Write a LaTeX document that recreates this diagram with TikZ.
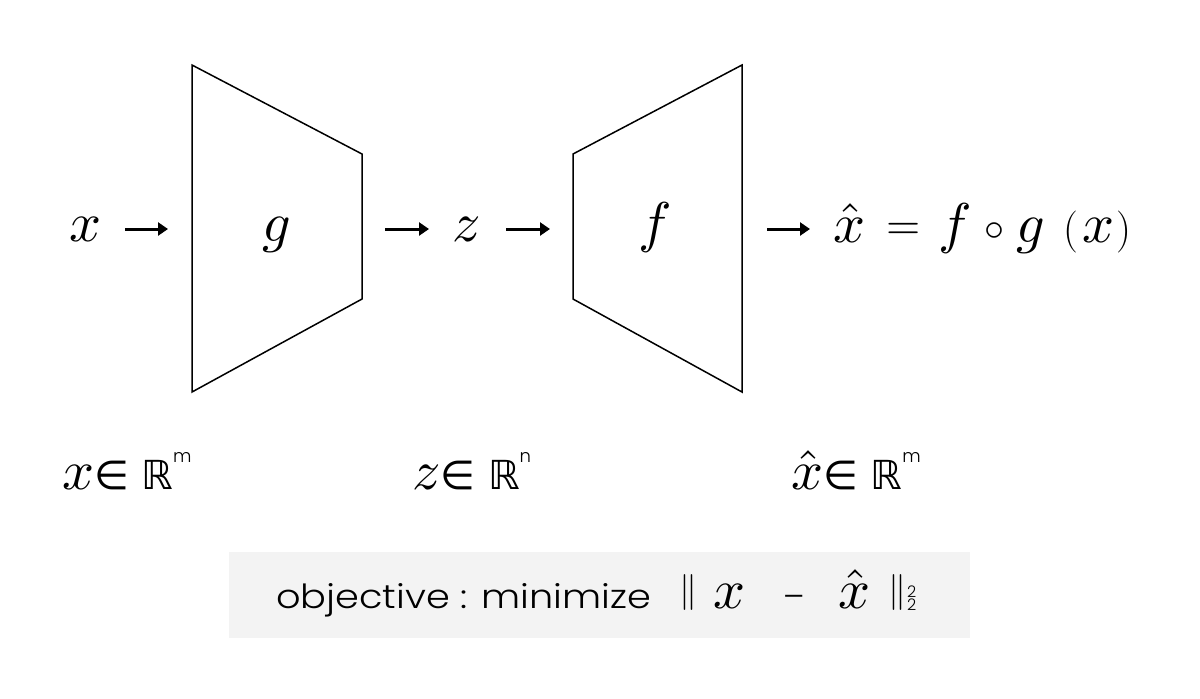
\documentclass[tikz,border=0pt]{standalone}
\DeclareFontFamily{OML}{cmm}{\skewchar\font127}
\DeclareFontShape{OML}{cmm}{m}{it}{<-> cmmi10}{}
\DeclareFontFamily{OMS}{cmsy}{\skewchar\font48}
\DeclareFontShape{OMS}{cmsy}{m}{n}{<-> cmsy10}{}
\DeclareFontFamily{OT1}{cmr}{}
\DeclareFontShape{OT1}{cmr}{m}{n}{<-> cmr10}{}
\usepackage{fontspec}
\newfontfamily\popfont{Poppins Light}
\newfontfamily\djfont{DejaVu Sans}
\usetikzlibrary{arrows.meta}
\definecolor{boxgray}{HTML}{F3F3F3}
\newdimen\pxu \pxu=0.5pt
\newcommand\putat[2]{\makebox[0pt][l]{\hspace*{#1\pxu}#2}}
\newcommand\mybigsz{\fontsize{28}{30}\selectfont}
\newcommand\setsz[1]{\fontsize{#1}{#1}\selectfont}
\begin{document}
\begin{tikzpicture}[x=0.5pt,y=-0.5pt,
  trap/.style={draw=black,line width=0.75pt,line join=miter},
  arr/.style={line width=1.5pt,-{Triangle[length=5pt,width=6.5pt]}},
  lbl/.style={inner sep=0pt,outer sep=0pt,font=\mybigsz},
]
\useasboundingbox (0,0) rectangle (1200,698);
% trapezoid corners
\coordinate (gTL) at (192,65);  \coordinate (gTR) at (362,154);
\coordinate (gBR) at (362,299); \coordinate (gBL) at (192,392);
\coordinate (fTL) at (573,154); \coordinate (fTR) at (742,65);
\coordinate (fBR) at (742,392); \coordinate (fBL) at (573,299);
\draw[trap] (gTL) -- (gTR) -- (gBR) -- (gBL) -- cycle;
\draw[trap] (fTL) -- (fTR) -- (fBR) -- (fBL) -- cycle;
% top row
\node[lbl,anchor=base] (x) at (86,241) {$x$};
\node[lbl,anchor=base] (g) at (277,241) {$g$};
\node[lbl,anchor=base] (z) at (467,241) {$z$};
\node[lbl,anchor=base] (f) at (655,241) {$f$};
\node[lbl,anchor=base west] (eq) at (832,242) {%
  \putat{0}{$\hat{x}$}%
  \putat{53}{\setsz{22}\raisebox{3\pxu}{$=$}}%
  \putat{105}{$f$}%
  \putat{151}{\setsz{20}\raisebox{2\pxu}{$\circ$}}%
  \putat{183}{$g$}%
  \putat{230}{\setsz{21}(}%
  \putat{249}{$x$}%
  \putat{283}{\setsz{21})}%
};
% arrows
\coordinate (a1s) at (125,229); \coordinate (a1e) at (168,229);
\coordinate (a2s) at (385,229); \coordinate (a2e) at (429,229);
\coordinate (a3s) at (506,229); \coordinate (a3e) at (550,229);
\coordinate (a4s) at (767,229); \coordinate (a4e) at (810,229);
\draw[arr] (a1s) -- (a1e);
\draw[arr] (a2s) -- (a2e);
\draw[arr] (a3s) -- (a3e);
\draw[arr] (a4s) -- (a4e);
% bottom labels
\node[lbl,anchor=base west] (lx) at (62,489) {$x$\djfont\setsz{20}∈ ℝ\raisebox{27\pxu}{\popfont\setsz{9}m}};
\node[lbl,anchor=base west] (lz) at (412,489) {$z$\djfont\setsz{20}∈ ℝ\raisebox{27\pxu}{\popfont\setsz{9}n}};
\node[lbl,anchor=base west] (lxh) at (791,489) {$\hat{x}$\djfont\setsz{20}∈ ℝ\raisebox{27\pxu}{\popfont\setsz{9}m}};
% objective box
\fill[boxgray] (229,552) rectangle (970,638);
\node[lbl,anchor=base west] (obj) at (275,608) {%
  \putat{0}{\resizebox{375\pxu}{25\pxu}{\popfont objective : minimize}}%
  \putat{403}{\setsz{18}\raisebox{7\pxu}{$\|$}}%
  \putat{437}{$x$}%
  \putat{507}{\popfont\setsz{16.5}–}%
  \putat{562}{$\hat{x}$}%
  \putat{612}{\setsz{18}\raisebox{7\pxu}{$\|$}}%
  \putat{631}{\popfont\setsz{8}\rlap{\raisebox{11\pxu}{2}}\raisebox{-2\pxu}{2}}%
};
\end{tikzpicture}
\end{document}
